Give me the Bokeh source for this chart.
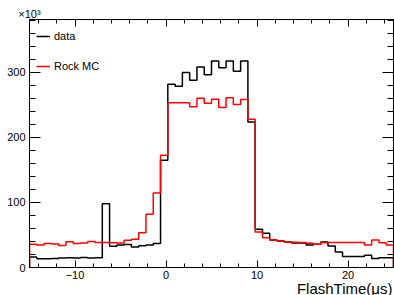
import numpy as np
from bokeh.plotting import figure
from bokeh.models import (LinearAxis, FixedTicker, Range1d, Legend,
                          LegendItem, CustomJSTickFormatter, Title)
from bokeh.embed import file_html
from bokeh.resources import INLINE

# ---- data (counts in units of 10^3) ----
bin_edges = np.round(np.arange(-15.0, 25.0001, 0.8), 3)  # 50 bins, width 0.8 us

data_counts = [16, 13.5, 13.5, 14, 14.5, 15, 14.5, 15.5, 14.5, 15,
               98, 32.5, 34.6, 35.5, 31.5, 33.5, 34.6, 37, 165,
               282, 279, 300, 288, 308.5, 296.7, 317.7, 307.4, 317.7, 302, 317.7,
               224, 58.7, 52.6, 42.3, 40.8, 39.2, 37.7, 37.5, 34.6, 35.6,
               39.2, 33, 23.8, 17, 17, 17, 18.7, 14, 15, 15]

mc_counts = [35.7, 34.6, 37, 36, 34, 39.7, 37, 37.5, 40, 38.5,
             38.5, 38, 37.5, 42, 43.5, 53.6, 82, 114.6, 172.6,
             253.5, 253.5, 253.5, 247.4, 260.5, 252.8, 259, 246, 261, 250.8, 258.5,
             228, 54.6, 45.9, 42.3, 40.8, 39.2, 39, 38.5, 37.2, 35.6,
             38, 38.5, 38.5, 38.5, 38.5, 38.5, 34.6, 42.3, 38, 34.6]

x_major = [-10, 0, 10, 20]
x_labels = ["\u221210", "0", "10", "20"]
x_minor = [-14, -12, -8, -6, -4, -2, 2, 4, 6, 8, 12, 14, 16, 18, 22, 24]
y_major = [0, 100, 200, 300]
y_labels = ["0", "100", "200", "300"]
y_minor = [20, 40, 60, 80, 120, 140, 160, 180, 220, 240, 260, 280, 320, 340, 360, 380]

legend_labels = ["data", "Rock MC"]
x_title = "FlashTime(\u03bcs)"
y_multiplier = "\u00d710\u00b3"


def outline(edges, vals):
    xs = np.repeat(edges, 2)
    ys = np.concatenate([[0.0], np.repeat(np.asarray(vals, float), 2), [0.0]])
    return xs, ys


FONT = "Liberation Sans"

p = figure(width=394, height=295, x_range=Range1d(-15, 25), y_range=Range1d(0, 381.5),
           output_backend="svg", toolbar_location=None,
           min_border_left=29, min_border_right=1, min_border_top=19, min_border_bottom=28)
p.grid.visible = False
p.background_fill_color = "white"
p.border_fill_color = "white"
p.outline_line_color = "black"

# bottom axis
xa = p.xaxis[0]
xa.ticker = FixedTicker(ticks=x_major, minor_ticks=x_minor)
xa.major_label_overrides = {t: l for t, l in zip(x_major, x_labels)}
# left axis
ya = p.yaxis[0]
ya.ticker = FixedTicker(ticks=y_major, minor_ticks=y_minor)
ya.major_label_overrides = {t: l for t, l in zip(y_major, y_labels)}

for ax in (xa, ya):
    ax.axis_line_color = "black"
    ax.major_tick_line_color = "black"
    ax.minor_tick_line_color = "black"
    ax.major_tick_out = 0
    ax.minor_tick_out = 0
    ax.major_label_text_font = FONT
    ax.major_label_text_font_size = "11px"
    ax.major_label_text_color = "black"
xa.major_tick_in = 7
xa.minor_tick_in = 4
xa.major_label_standoff = 3
ya.major_tick_in = 11
ya.minor_tick_in = 6
ya.major_label_standoff = 4

# x-axis title, right aligned under the axis
p.add_layout(Title(text=x_title, align="right", standoff=-8, offset=1,
                   text_font=FONT, text_font_size="15px", text_font_style="normal",
                   text_color="black"), "below")

# top & right mirrored axes without tick labels
top = LinearAxis(ticker=FixedTicker(ticks=x_major, minor_ticks=x_minor),
                 formatter=CustomJSTickFormatter(code="return ''"),
                 major_tick_in=7, minor_tick_in=4, major_tick_out=0, minor_tick_out=0,
                 major_label_standoff=0, axis_line_color="black",
                 axis_label=y_multiplier, axis_label_align="start", axis_label_standoff=0,
                 axis_label_text_font=FONT, axis_label_text_font_size="11px",
                 axis_label_text_font_style="normal", axis_label_text_color="black")
right = LinearAxis(ticker=FixedTicker(ticks=y_major, minor_ticks=y_minor),
                   formatter=CustomJSTickFormatter(code="return ''"),
                   major_tick_in=11, minor_tick_in=6, major_tick_out=0, minor_tick_out=0,
                   major_label_standoff=0, axis_line_color="black")
p.add_layout(top, "above")
p.add_layout(right, "right")

dx, dy = outline(bin_edges, data_counts)
mx, my = outline(bin_edges, mc_counts)
r_data = p.line(dx, dy, line_color="black", line_width=1.5)
r_mc = p.line(mx, my, line_color="#ff0000", line_width=1.5)

legend = Legend(items=[LegendItem(label=legend_labels[0], renderers=[r_data]),
                       LegendItem(label=legend_labels[1], renderers=[r_mc])],
                location="top_left", orientation="vertical", padding=0, margin=7,
                spacing=10, glyph_width=14, glyph_height=20, label_height=20,
                label_standoff=4, label_text_font=FONT, label_text_font_size="11px",
                label_text_color="black",
                background_fill_alpha=0, border_line_alpha=0)
p.add_layout(legend)

open("out.html", "w").write(file_html(p, INLINE))
